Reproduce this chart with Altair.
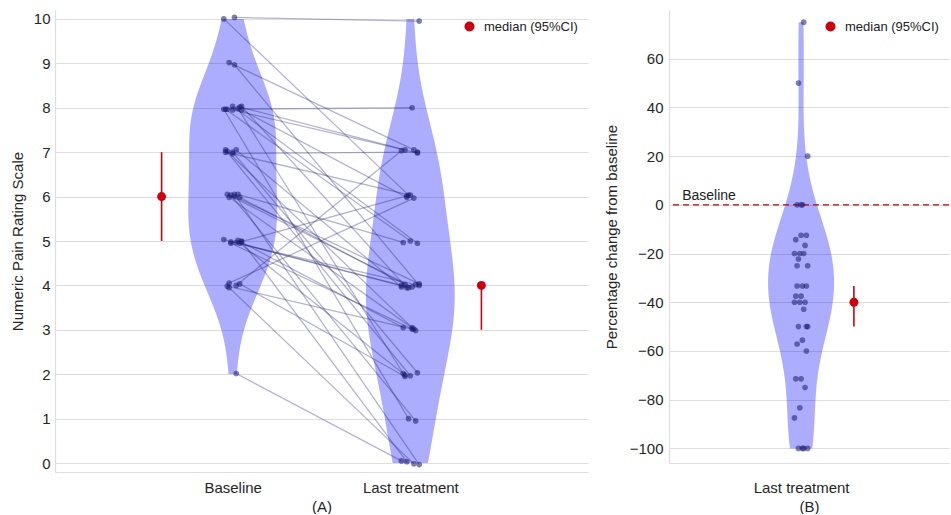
import altair as alt
import pandas as pd

FONT = "Liberation Sans"

# ---------------- data ----------------
patient_id = list(range(1, 41))
baseline_nprs = [4, 4, 5, 10, 8, 8, 8, 7, 6, 5, 5, 5, 9, 8, 6, 6, 6, 8, 8, 5,
                 5, 10, 7, 6, 8, 9, 7, 5, 7, 7, 8, 6, 8, 2, 4, 5, 6, 4, 4, 7]
last_nprs = [7, 6, 6, 10, 8, 7, 7, 6, 5, 4, 4, 4, 7, 6, 4, 4, 4, 5, 5, 3,
             3, 6, 4, 3, 4, 4, 3, 2, 2, 2, 2, 1, 1, 0, 0, 0, 0, 3, 2, 7]

groups = ["Baseline", "Last treatment"]
group_pos = [1, 2]
violin_extent = [[2, 10], [0, 10]]

median_pos = [0.6, 2.4]
median_val = [6, 4]
ci_low = [5, 3]
ci_high = [7, 4]

pct_median_pos = [1.4]
pct_median = [-40]
pct_ci_low = [-50]
pct_ci_high = [-33.3]
pct_extent = [-100, 75]

legend_label = "median (95%CI)"
y_ticks_left = list(range(0, 11))
y_ticks_right = [-100, -80, -60, -40, -20, 0, 20, 40, 60]

# ---------------- styling ----------------
VIOLIN = "#0000ff"
VIOLIN_OP = 0.32
DOT = "#1a1a70"
RED = "#cc0010"
GRID = "#dedede"

# ---------------- tables ----------------
rows = []
for i, b, l in zip(patient_id, baseline_nprs, last_nprs):
    rows.append({"id": i, "t": 0, "group": groups[0], "pos": group_pos[0], "value": b})
    rows.append({"id": i, "t": 1, "group": groups[1], "pos": group_pos[1], "value": l})
long_df = pd.DataFrame(rows)

pct_df = pd.DataFrame({"id": patient_id, "base": baseline_nprs, "last": last_nprs})

med_df = pd.DataFrame({"pos": median_pos, "med": median_val, "lo": ci_low,
                       "hi": ci_high, "label": [legend_label] * 2})
pct_med_df = pd.DataFrame({"pos": pct_median_pos, "med": pct_median, "lo": pct_ci_low,
                           "hi": pct_ci_high, "label": [legend_label]})

# ---------------- left panel (A) ----------------
xs_l = alt.Scale(domain=[0, 3], nice=False, zero=False)
ys_l = alt.Scale(domain=[-0.2, 10.2], nice=False, zero=False)

x_axis_l = alt.Axis(values=group_pos,
                    labelExpr="datum.value == 1 ? 'Baseline' : 'Last treatment'",
                    title="(A)", grid=False, ticks=False, labelPadding=8, titlePadding=4)
y_axis_l = alt.Axis(values=y_ticks_left, title="Numeric Pain Rating Scale", grid=True,
                    ticks=False, labelPadding=5, titlePadding=8)


def violin_layer(g, pos, extent):
    return (
        alt.Chart(long_df)
        .transform_filter(alt.datum.group == g)
        .transform_density("value", as_=["v", "density"], extent=extent, steps=200)
        .transform_joinaggregate(maxd="max(density)")
        .transform_calculate(
            x1=f"{pos} - datum.density / datum.maxd * 0.25",
            x2=f"{pos} + datum.density / datum.maxd * 0.25",
        )
        .mark_area(orient="horizontal", color=VIOLIN, opacity=VIOLIN_OP)
        .encode(
            y=alt.Y("v:Q", scale=ys_l, axis=y_axis_l),
            x=alt.X("x1:Q", scale=xs_l, axis=x_axis_l),
            x2="x2:Q",
        )
    )


v1 = violin_layer(groups[0], group_pos[0], violin_extent[0])
v2 = violin_layer(groups[1], group_pos[1], violin_extent[1])

jit = alt.Chart(long_df).transform_calculate(
    xj="datum.pos + ((((datum.id * 7 + datum.t * 4) % 11) - 5) / 5) * 0.05",
    yj="datum.value + ((((datum.id * 3 + datum.t * 2) % 7) - 3) / 3) * 0.05",
)

lines = jit.mark_line(color=DOT, opacity=0.33, strokeWidth=1.3).encode(
    x=alt.X("xj:Q", scale=xs_l, axis=x_axis_l),
    y=alt.Y("yj:Q", scale=ys_l, axis=y_axis_l),
    detail="id:N",
    order="t:Q",
)
points = jit.mark_circle(color=DOT, opacity=0.55, size=32).encode(
    x=alt.X("xj:Q", scale=xs_l, axis=x_axis_l),
    y=alt.Y("yj:Q", scale=ys_l, axis=y_axis_l),
)

ci_rule = alt.Chart(med_df).mark_rule(color=RED, strokeWidth=1.6).encode(
    x=alt.X("pos:Q", scale=xs_l, axis=x_axis_l),
    y=alt.Y("lo:Q", scale=ys_l, axis=y_axis_l),
    y2="hi:Q",
)
legend = alt.Legend(orient="top-right", title=None, labelFontSize=13, symbolSize=100,
                    symbolType="circle", offset=10, labelFont=FONT, labelColor="#222",
                    labelOffset=8, symbolOpacity=1)
med_pt = alt.Chart(med_df).mark_circle(size=80, opacity=1).encode(
    x=alt.X("pos:Q", scale=xs_l, axis=x_axis_l),
    y=alt.Y("med:Q", scale=ys_l, axis=y_axis_l),
    color=alt.Color("label:N", scale=alt.Scale(domain=[legend_label], range=[RED]),
                    legend=legend),
)

left = alt.layer(v1, v2, lines, points, ci_rule, med_pt).properties(width=533, height=462)

# ---------------- right panel (B) ----------------
xs_r = alt.Scale(domain=[0, 2.12], nice=False, zero=False)
ys_r = alt.Scale(domain=[-106, 80], nice=False, zero=False)
x_axis_r = alt.Axis(values=[1], labelExpr="'Last treatment'", title="(B)", grid=False,
                    ticks=False, labelPadding=17, titlePadding=4)
y_axis_r = alt.Axis(values=y_ticks_right, title="Percentage change from baseline",
                    grid=True, ticks=False, labelPadding=6, titlePadding=10)

pct_base = alt.Chart(pct_df).transform_calculate(
    pct="(datum.last - datum.base) / datum.base * 100"
)

v3 = (
    pct_base
    .transform_density("pct", as_=["v", "density"], extent=pct_extent, steps=200)
    .transform_joinaggregate(maxd="max(density)")
    .transform_calculate(
        x1="1 - datum.density / datum.maxd * 0.25",
        x2="1 + datum.density / datum.maxd * 0.25",
    )
    .mark_area(orient="horizontal", color=VIOLIN, opacity=VIOLIN_OP)
    .encode(
        y=alt.Y("v:Q", scale=ys_r, axis=y_axis_r),
        x=alt.X("x1:Q", scale=xs_r, axis=x_axis_r),
        x2="x2:Q",
    )
)

zero_rule = alt.Chart(pct_med_df).mark_rule(color="#c00000", strokeDash=[6, 4],
                                            strokeWidth=1.3).encode(
    y=alt.Y(datum=0, scale=ys_r, axis=y_axis_r))
zero_text = alt.Chart(pct_med_df).mark_text(
    text="Baseline", align="left", baseline="bottom", dy=-2, fontSize=14,
    font=FONT, color="#222"
).encode(x=alt.X(datum=0.1, scale=xs_r, axis=x_axis_r),
         y=alt.Y(datum=0, scale=ys_r, axis=y_axis_r))

pct_points = pct_base.transform_calculate(
    xj="1 + ((((datum.id * 7) % 11) - 5) / 5) * 0.05"
).mark_circle(color=DOT, opacity=0.55, size=32).encode(
    x=alt.X("xj:Q", scale=xs_r, axis=x_axis_r),
    y=alt.Y("pct:Q", scale=ys_r, axis=y_axis_r),
)

pct_rule = alt.Chart(pct_med_df).mark_rule(color=RED, strokeWidth=1.6).encode(
    x=alt.X("pos:Q", scale=xs_r, axis=x_axis_r),
    y=alt.Y("lo:Q", scale=ys_r, axis=y_axis_r),
    y2="hi:Q",
)
pct_pt = alt.Chart(pct_med_df).mark_circle(size=80, opacity=1).encode(
    x=alt.X("pos:Q", scale=xs_r, axis=x_axis_r),
    y=alt.Y("med:Q", scale=ys_r, axis=y_axis_r),
    color=alt.Color("label:N", scale=alt.Scale(domain=[legend_label], range=[RED]),
                    legend=legend),
)

right = alt.layer(v3, zero_rule, zero_text, pct_points, pct_rule, pct_pt).properties(
    width=280, height=453)

chart = (
    alt.hconcat(left, right, spacing=16)
    .resolve_scale(color="independent")
    .properties(padding={"left": 10, "top": 10, "right": 0, "bottom": 0},
                background="white")
    .configure_view(stroke=None)
    .configure_axis(
        labelFont=FONT, titleFont=FONT, labelFontSize=15, titleFontSize=15,
        labelColor="#262626", titleColor="#262626", titleFontWeight="normal",
        domainColor=GRID, gridColor=GRID, domainWidth=1.2,
    )
)

chart.save("out.html", embed_options={"renderer": "svg", "actions": False})
